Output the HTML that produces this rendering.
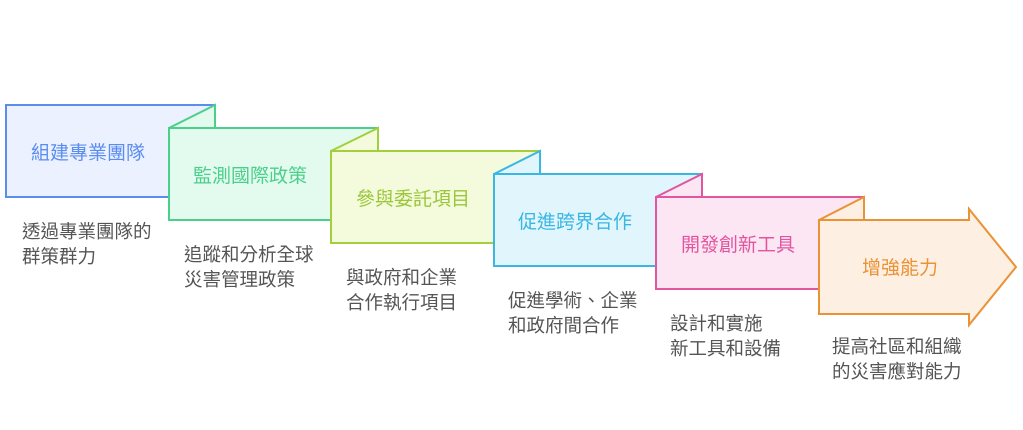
<!DOCTYPE html>
<html><head><meta charset="utf-8"><style>
html,body{margin:0;padding:0;background:#fff;width:1023px;height:430px;overflow:hidden}
text{font-family:"Liberation Sans","Noto Sans CJK TC",sans-serif}
.t{font-size:19px}
.d{font-size:18.5px;fill:#555}
</style></head><body>
<svg width="1023" height="430" viewBox="0 0 1023 430" xmlns="http://www.w3.org/2000/svg">
<g stroke-width="2" stroke-linejoin="miter">
<rect x="6" y="105" width="209" height="92" fill="#ebf1fe" stroke="#5b8def"/>
<polygon points="169,128 215,105 215,128" fill="#e2fbee" stroke="#4ccf8b"/>
<rect x="169" y="128" width="209" height="92" fill="#e2fbee" stroke="#4ccf8b"/>
<polygon points="331,151 378,128 378,151" fill="#f3fbdc" stroke="#a3cf3c"/>
<rect x="331" y="151" width="209" height="92" fill="#f3fbdc" stroke="#a3cf3c"/>
<polygon points="494,174 540,151 540,174" fill="#e1f5fc" stroke="#3ab6e3"/>
<rect x="494" y="174" width="208" height="92" fill="#e1f5fc" stroke="#3ab6e3"/>
<polygon points="656,197 702,174 702,197" fill="#fde6f3" stroke="#e2559f"/>
<rect x="656" y="197" width="208" height="92" fill="#fde6f3" stroke="#e2559f"/>
<polygon points="819,220 864,197 864,220" fill="#fdefe1" stroke="#ea9236"/>
<polygon points="819,220 969,220 969,209 1016,267 969,325 969,314 819,314" fill="#fdefe1" stroke="#ea9236"/>
</g>
<text class="t" x="31" y="159" fill="#5b8def">組建專業團隊</text>
<text class="t" x="193" y="182" fill="#4ccf8b">監測國際政策</text>
<text class="t" x="356" y="205" fill="#9cc63a">參與委託項目</text>
<text class="t" x="518" y="228" fill="#3ab6e3">促進跨界合作</text>
<text class="t" x="681" y="251" fill="#e2559f">開發創新工具</text>
<text class="t" x="862" y="274" fill="#ea9236">增強能力</text>
<text class="d" x="22" y="238">透過專業團隊的</text>
<text class="d" x="22" y="263">群策群力</text>
<text class="d" x="184" y="261">追蹤和分析全球</text>
<text class="d" x="184" y="286">災害管理政策</text>
<text class="d" x="346" y="284">與政府和企業</text>
<text class="d" x="346" y="309">合作執行項目</text>
<text class="d" x="508" y="307">促進學術、企業</text>
<text class="d" x="508" y="332">和政府間合作</text>
<text class="d" x="670" y="330">設計和實施</text>
<text class="d" x="670" y="355">新工具和設備</text>
<text class="d" x="832" y="353">提高社區和組織</text>
<text class="d" x="832" y="378">的災害應對能力</text>
</svg>
</body></html>
